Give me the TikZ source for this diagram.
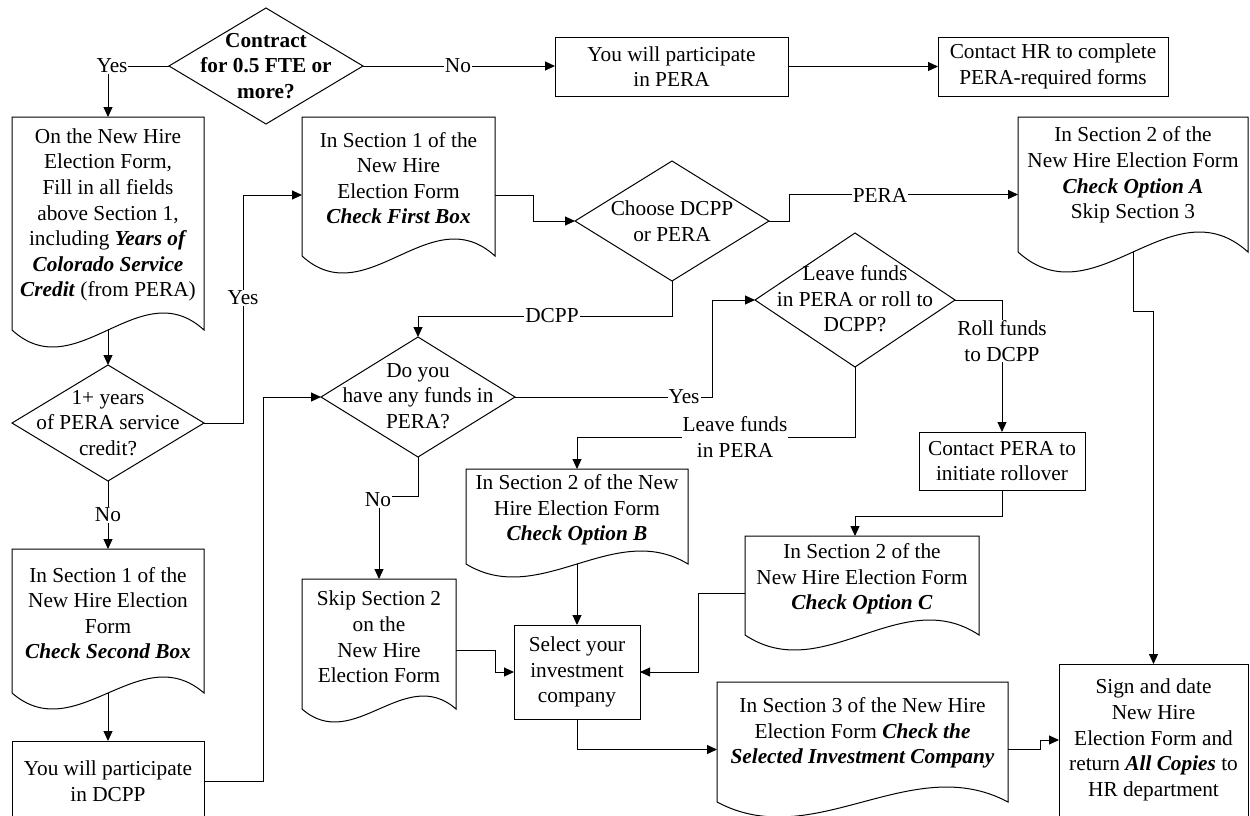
\documentclass[tikz,border=0pt]{standalone}
\usepackage{fontspec}
\setmainfont{Liberation Serif}
\usetikzlibrary{shapes.geometric,arrows.meta,calc}
\newcommand\mainfs{\fontsize{21.3}{25.6}\selectfont}
\newcommand\emphbi[1]{\textbf{\textit{#1}}}
% name, L, T, R, B (side end), amplitude, text y, text
\newcommand\docbox[8]{%
 \node[docframe, minimum width={#4-#2}, minimum height={#5+#6-#3}] (#1) at ({(#2+#4)/2},{(#3+#5+#6)/2}) {};
 \coordinate (#1-b) at ({(#2+#4)/2},#5);
 \draw[shapeline] (#2,#3) -- (#4,#3) -- (#4,#5) .. controls ({#4-(#4-#2)/3},{#5-3.46*#6}) and ({#2+(#4-#2)/3},{#5+3.46*#6}) .. (#2,#5) -- cycle;
 \node[txt] (#1-t) at ({(#2+#4)/2},#7) {#8};
}
\tikzset{
 shapeline/.style={line width=1pt},
 arr/.style={line width=1pt, -{Triangle[length=10pt,width=9pt]}},
 proc/.style={draw, line width=1pt, inner sep=0pt, outer sep=0pt, align=center, font=\mainfs},
 decision/.style={diamond, draw, line width=1pt, inner sep=0pt, outer sep=0pt},
 docframe/.style={inner sep=0pt, outer sep=0pt},
 txt/.style={align=center, inner sep=0pt, font=\mainfs},
 lbl/.style={fill=white, inner sep=1pt, align=center, font=\mainfs},
}
\begin{document}
\begin{tikzpicture}[x=1pt,y=-1pt]
\clip (0,0) rectangle (1250,815);
% process boxes
\node[proc, minimum width=233, minimum height=59] (pera) at (671.5,66.5) {You will participate\\in PERA};
\node[proc, minimum width=230, minimum height=59] (hr) at (1053,66.5) {Contact HR to complete\\PERA-required forms};
\node[proc, minimum width=166, minimum height=58] (rollover) at (1002,461) {Contact PERA to\\initiate rollover};
\node[proc, minimum width=126, minimum height=94] (select) at (577,672) {Select your\\investment\\company};
\node[proc, minimum width=192, minimum height=80] (dcpp) at (108,781) {You will participate\\in DCPP};
\node[proc, minimum width=189, minimum height=152] (sign) at (1153.5,740) {Sign and date\\New Hire\\Election Form and\\return \emphbi{All Copies} to\\HR department};
% decisions
\node[decision, minimum width=194, minimum height=116] (contract) at (266,66) {};
\node[txt, font=\mainfs\bfseries] (contract-t) at (266,66) {Contract\\for 0.5 FTE or\\more?};
\node[decision, minimum width=192, minimum height=116] (years) at (108,423) {};
\node[txt] (years-t) at (108,423) {1+ years\\of PERA service\\credit?};
\node[decision, minimum width=194, minimum height=120] (choose) at (672,221) {};
\node[txt] (choose-t) at (672,221) {Choose DCPP\\or PERA};
\node[decision, minimum width=194, minimum height=120] (funds) at (418,397) {};
\node[txt] (funds-t) at (418,396) {Do you\\have any funds in\\PERA?};
\node[decision, minimum width=200, minimum height=134] (leave) at (855,300) {};
\node[txt] (leave-t) at (855,299) {Leave funds\\in PERA or roll to\\DCPP?};
% documents
\docbox{box1}{12}{117}{204}{330}{17}{215}{On the New Hire\\Election Form,\\Fill in all fields\\above Section 1,\\including \emphbi{Years of}\\\emphbi{Colorado Service}\\\emphbi{Credit} (from PERA)}
\docbox{first}{302}{117}{495}{256}{17}{178}{In Section 1 of the\\New Hire\\Election Form\\\emphbi{Check First Box}}
\docbox{optA}{1018}{117}{1248}{252}{20}{175}{In Section 2 of the\\New Hire Election Form\\\emphbi{Check Option A}\\Skip Section 3}
\docbox{optB}{466}{469}{688}{564}{13}{510}{In Section 2 of the New\\Hire Election Form\\\emphbi{Check Option B}}
\docbox{optC}{745}{536}{979}{635}{15}{579}{In Section 2 of the\\New Hire Election Form\\\emphbi{Check Option C}}
\docbox{skip}{302}{579}{456}{709}{13}{637}{Skip Section 2\\on the\\New Hire\\Election Form}
\docbox{second}{12}{549}{204}{693}{16}{613}{In Section 1 of the\\New Hire Election\\Form\\\emphbi{Check Second Box}}
\docbox{sec3}{717}{682}{1008}{802}{15}{733}{In Section 3 of the New Hire\\Election Form \emphbi{Check the}\\\emphbi{Selected Investment Company}}
% connectors
\draw[arr] (contract.west) -| (box1.north);
\draw[arr] (contract.east) -- (contract.east -| pera.west);
\draw[arr] (pera.east) -- (hr.west);
\draw[arr] (box1-b) -- (years.north);
\draw[arr] (years.east) -- ++(39,0) |- (first.west);
\draw[arr] (years.south) -- (years.south |- second.north);
\draw[arr] (second-b) -- (dcpp.north);
\draw[arr] (dcpp.east) -- ++(59,0) |- (funds.west);
\draw[arr] (first.east) -- ++(38,0) |- (choose.west);
\draw[arr] (choose.east) -- ++(20,0) |- (optA.west);
\draw[arr] (choose.south) -- ++(0,35) -| (funds.north);
\draw[arr] (funds.east) -- ++(197,0) |- (leave.west);
\draw[arr] (leave.south) -- ++(0,70) -| (optB.north);
\draw[arr] (leave.east) -| (rollover.north);
\draw[arr] (rollover.south) -- ++(0,26) -| ([xshift=-7pt]optC.north);
\draw[arr] (optB-b) -- (select.north);
\draw[arr] (optC.west) -- ++(-47,0) |- (select.east);
\draw[arr] (skip.east) -- ++(39,0) |- (select.west);
\draw[arr] (funds.south) -- ++(0,39) -| (skip.north);
\draw[arr] (select.south) |- (sec3.west);
\draw[arr] (sec3.east) -- ++(32,0) |- (sign.west);
\draw[arr] (optA-b) -- ++(0,59) -| (sign.north);
% labels
\node[lbl] (lyes1) at (112,66) {Yes};
\node[lbl] (lno1) at (458,66) {No};
\node[lbl] (lyes2) at (243,298) {Yes};
\node[lbl] (lno2) at (108,515) {No};
\node[lbl] (ldcpp) at (552,316) {DCPP};
\node[lbl] (lyes3) at (684,397) {Yes};
\node[lbl] (lno3) at (378,500) {No};
\node[lbl] (lpera) at (880,195) {PERA};
\node[lbl] (lleave) at (735,437) {Leave funds\\in PERA};
\node[lbl] (lroll) at (1002,341) {Roll funds\\to DCPP};
\end{tikzpicture}
\end{document}
